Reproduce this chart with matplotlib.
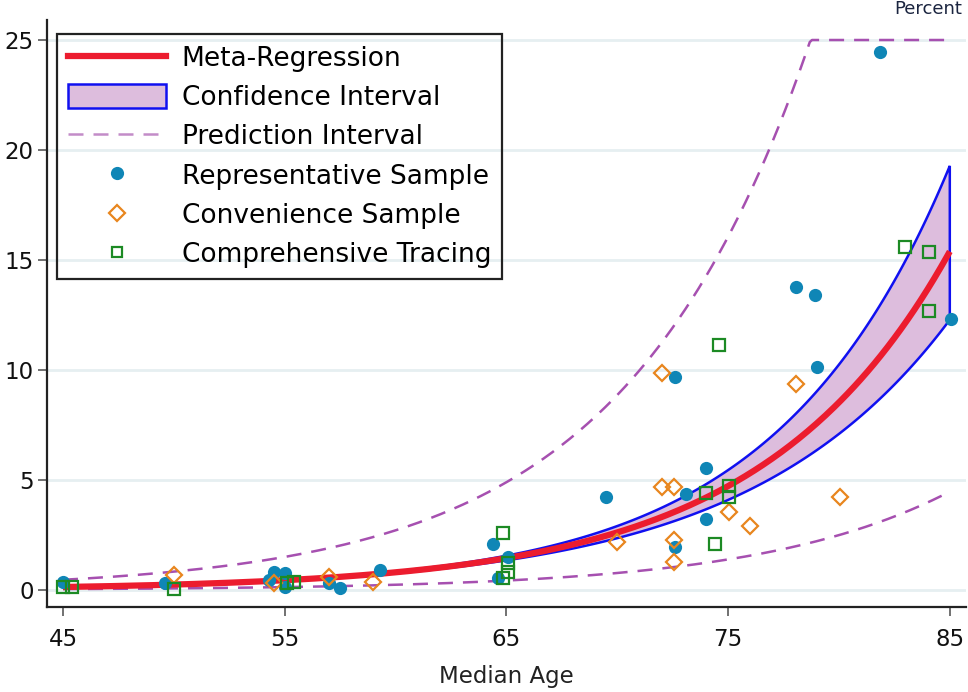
import numpy as np
import matplotlib
matplotlib.use("Agg")
import matplotlib.pyplot as plt
from matplotlib.lines import Line2D
from matplotlib.patches import Patch

plt.rcParams['font.family'] = ['DejaVu Sans']

# Meta-regression estimates (log percent = b0 + b1*(age - 65))
b0 = 0.3716
b1 = 0.1181
se_center = 60.0  # age where the standard error of the fit is smallest
se0 = 0.03        # standard error of fit at that age
se1 = 0.00444     # growth of the standard error per year away from it
tau = 0.62        # between-study SD
cap = 25.0        # plotted upper limit of the prediction interval

# Studies: (median age, percent)
rep_age = [45.0, 49.6, 54.5, 55.0, 54.3, 55.0, 57.0, 57.5, 59.3, 64.4, 65.05, 64.6,
           69.5, 72.6, 72.6, 73.1, 74.0, 74.0, 78.05, 78.9, 79.0, 81.85, 85.05]
rep_val = [0.35, 0.30, 0.83, 0.76, 0.45, 0.15, 0.30, 0.10, 0.91, 2.10, 1.52, 0.55,
           4.24, 9.67, 1.94, 4.36, 5.56, 3.21, 13.79, 13.41, 10.15, 24.47, 12.30]

con_age = [50.0, 54.5, 57.0, 59.0, 70.0, 72.0, 72.0, 72.55, 72.55, 72.55, 75.05, 76.0,
           78.05, 80.05]
con_val = [0.68, 0.30, 0.58, 0.38, 2.20, 9.85, 4.70, 4.70, 2.27, 1.29, 3.56, 2.91,
           9.36, 4.24]

com_age = [45.0, 45.4, 50.0, 55.1, 55.4, 64.85, 65.05, 65.05, 64.85, 74.0, 74.4, 74.6,
           75.05, 75.05, 83.0, 84.05, 84.05]
com_val = [0.12, 0.15, 0.06, 0.30, 0.38, 2.58, 1.21, 0.83, 0.53, 4.39, 2.08, 11.14,
           4.74, 4.24, 15.60, 15.35, 12.68]

x_ticks = [45, 55, 65, 75, 85]
y_ticks = [0, 5, 10, 15, 20, 25]

W, H = 968, 692
fig = plt.figure(figsize=(W / 100, H / 100), dpi=100)
ax_l, ax_r, ax_t, ax_b = 46.7, 966, 20, 606.5
ax = fig.add_axes([ax_l / W, 1 - ax_b / H, (ax_r - ax_l) / W, (ax_b - ax_t) / H])

ages = np.linspace(45, 85, 400)
lp = b0 + b1 * (ages - 65)
se = np.sqrt(se0 ** 2 + (se1 * (ages - se_center)) ** 2)
fit = np.exp(lp)
ci_lo = np.exp(lp - 1.96 * se)
ci_hi = np.exp(lp + 1.96 * se)
pw = 1.96 * np.sqrt(se ** 2 + tau ** 2)
pi_lo = np.exp(lp - pw)
pi_hi = np.minimum(np.exp(lp + pw), cap)

for yv in y_ticks:
    ax.axhline(yv, color='#E6EFF1', lw=2, zorder=0)

pi_col = '#A650B0'
ax.plot(ages, pi_hi, color=pi_col, lw=1.8, dashes=(6, 4), zorder=2)
ax.plot(ages, pi_lo, color=pi_col, lw=1.8, dashes=(6, 4), zorder=2)

poly_x = np.concatenate([ages, ages[::-1]])
poly_y = np.concatenate([ci_hi, ci_lo[::-1]])
ax.fill(poly_x, poly_y, facecolor='#DDBDDD', edgecolor='#1010F0', lw=1.8, zorder=3)
ax.plot(ages, fit, color='#EC1C2E', lw=4.5, zorder=4, solid_capstyle='butt')

ms = 9.5
ax.plot(rep_age, rep_val, 'o', color='#0F86B6', ms=ms, mec='none', zorder=5)
ax.plot(con_age, con_val, 'D', mfc='none', mec='#E8861E', ms=8.5, mew=1.6, zorder=6)
ax.plot(com_age, com_val, 's', mfc='none', mec='#1C8A24', ms=8.5, mew=1.6, zorder=7)

px_x = 22.17
px_y = 22.0
ax.set_xlim(45 - (63 - ax_l) / px_x, 45 + (ax_r - 63) / px_x)
ax.set_ylim(-(ax_b - 590) / px_y, 25 + (40 - ax_t) / px_y)
ax.set_xticks(x_ticks)
ax.set_yticks(y_ticks)
ax.set_xticklabels([str(v) for v in x_ticks])
ax.set_yticklabels([str(v) for v in y_ticks])
ax.tick_params(axis='both', labelsize=16.5, length=6.5, width=1.3, color='#666666',
               labelcolor='#111111')
ax.tick_params(axis='x', pad=9)
ax.tick_params(axis='y', pad=3)
for s in ['top', 'right']:
    ax.spines[s].set_visible(False)
for s in ['left', 'bottom']:
    ax.spines[s].set_color('#222222')
    ax.spines[s].set_linewidth(1.6)
ax.set_xlabel('Median Age', fontsize=16.5, color='#222222', labelpad=10)
ax.patch.set_alpha(0)

fig.text(928 / W, 1 - 9 / H, 'Percent', fontsize=13, color='#1B2540',
         ha='center', va='center')

handles = [
    Line2D([], [], color='#EC1C2E', lw=4.5),
    Patch(facecolor='#DDBDDD', edgecolor='#1010F0', lw=1.8),
    Line2D([], [], color='#C38CC8', lw=1.8, dashes=(6, 4)),
    Line2D([], [], ls='none', marker='o', color='#0F86B6', ms=ms, mec='none'),
    Line2D([], [], ls='none', marker='D', mfc='none', mec='#E8861E', ms=8, mew=1.6),
    Line2D([], [], ls='none', marker='s', mfc='none', mec='#1C8A24', ms=7.5, mew=1.6),
]
labels = ['Meta-Regression', 'Confidence Interval', 'Prediction Interval',
          'Representative Sample', 'Convenience Sample', 'Comprehensive Tracing']
leg = fig.legend(handles, labels, loc='upper left',
                 bbox_to_anchor=(57 / W, 1 - 34 / H), bbox_transform=fig.transFigure,
                 fontsize=19, frameon=True, fancybox=False, framealpha=1,
                 edgecolor='#222222', facecolor='none', handlelength=3.7,
                 handleheight=1.0, handletextpad=0.6, labelspacing=0.47,
                 borderpad=0.42, borderaxespad=0)
leg.get_frame().set_linewidth(1.6)

fig.savefig('out.png', dpi=100)
